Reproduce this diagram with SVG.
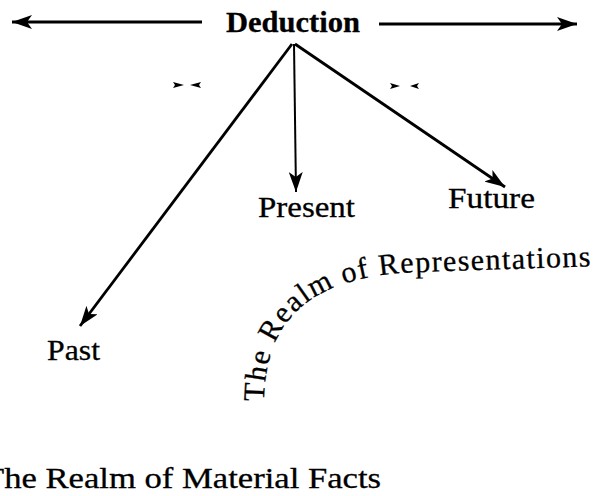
<svg xmlns="http://www.w3.org/2000/svg" width="599" height="496" viewBox="0 0 599 496">
<defs>
<style>
text{font-family:'Liberation Serif','Times New Roman',Tinos,serif;font-size:30px;fill:#000;stroke:#000;stroke-width:0.3}
.b{font-weight:bold}
.c{stroke:#000;stroke-width:2.8;fill:none}
.tick{fill:#000}
</style>
<marker id="ah" markerUnits="userSpaceOnUse" markerWidth="22" markerHeight="14" viewBox="0 0 22 14" refX="20" refY="7" orient="auto">
<path d="M0,0 L20,7 L0,14 L5,7 Z" fill="#000"/>
</marker>
<path id="arc" d="M 264 404 C 264 310, 322 275, 420 272 L 600 266"/>
</defs>
<rect width="599" height="496" fill="#fff"/>
<g id="deduction"><text class="b" x="226" y="32" textLength="134" lengthAdjust="spacingAndGlyphs">Deduction</text></g>
<g id="present"><text x="258" y="217" textLength="97" lengthAdjust="spacingAndGlyphs">Present</text></g>
<g id="future"><text x="448" y="208" textLength="87" lengthAdjust="spacingAndGlyphs">Future</text></g>
<g id="past"><text x="47" y="360" textLength="53" lengthAdjust="spacingAndGlyphs">Past</text></g>
<g id="material"><text x="-17" y="488" textLength="398" lengthAdjust="spacingAndGlyphs">The Realm of Material Facts</text></g>
<g id="representations"><text style="letter-spacing:1.4px"><textPath href="#arc" startOffset="2">The Realm of Representations</textPath></text></g>
<g id="connectors">
<line class="c" x1="202" y1="22" x2="12" y2="22" marker-end="url(#ah)"/>
<line class="c" x1="379" y1="24" x2="577" y2="24" marker-end="url(#ah)"/>
<line class="c" x1="292" y1="44" x2="80" y2="326" marker-end="url(#ah)"/>
<line class="c" style="stroke-width:2" x1="294" y1="44" x2="296" y2="192" marker-end="url(#ah)"/>
<line class="c" x1="295" y1="44" x2="505" y2="187" marker-end="url(#ah)"/>
</g>
<g id="marks">
<polygon class="tick" points="173,82 184,85 173,88 175,85"/>
<polygon class="tick" points="201,82 190,85 201,88 199,85"/>
<polygon class="tick" points="390,83 400,86 390,89 392,86"/>
<polygon class="tick" points="419,83 410,86 419,89 417,86"/>
</g>
</svg>
